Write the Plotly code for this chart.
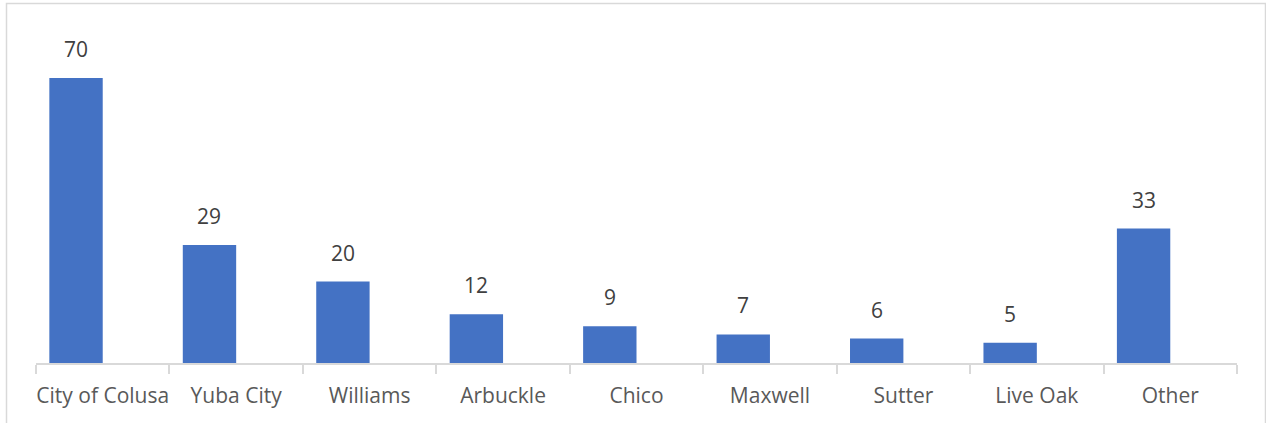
import plotly.graph_objects as go

# Places and counts
places = ["City of Colusa", "Yuba City", "Williams", "Arbuckle", "Chico",
          "Maxwell", "Sutter", "Live Oak", "Other"]
counts = [70, 29, 20, 12, 9, 7, 6, 5, 33]

BAR_COLOR = "#4472C4"
TEXT_COLOR = "#595959"
VALUE_COLOR = "#404040"
LINE_COLOR = "#D9D9D9"
FONT = "Open Sans"

idx = list(range(len(places)))
bar_x = [i - 0.2 for i in idx]

fig = go.Figure()
fig.add_trace(go.Bar(
    x=bar_x, y=counts, width=0.4,
    marker=dict(color=BAR_COLOR, line=dict(width=0)),
    hoverinfo="skip",
))

# Value labels above each bar
for x, v in zip(bar_x, counts):
    fig.add_annotation(x=x, y=v, text=str(v), showarrow=False,
                       yshift=29, font=dict(family=FONT, size=21, color=VALUE_COLOR))

W, H = 1266, 423
ml, mr, mt, mb = 36, 29, 36, 60
pw, ph = W - ml - mr, H - mt - mb

def px_to_paper_x(px):
    return (px - ml) / pw

def px_to_paper_y(py):
    return (H - mb - py) / ph

# Outer chart border
fig.add_shape(type="rect", xref="paper", yref="paper",
              x0=px_to_paper_x(6.5), x1=px_to_paper_x(1265.5),
              y0=px_to_paper_y(430), y1=px_to_paper_y(3.5),
              line=dict(color=LINE_COLOR, width=1.5), layer="below")

fig.update_layout(
    width=W, height=H,
    margin=dict(l=ml, r=mr, t=mt, b=mb),
    plot_bgcolor="white", paper_bgcolor="white",
    showlegend=False,
    font=dict(family=FONT, color=TEXT_COLOR),
    xaxis=dict(
        range=[-0.5, len(places) - 0.5],
        tickvals=idx, ticktext=places,
        ticks="", showgrid=False, zeroline=False,
        showline=True, linecolor=LINE_COLOR, linewidth=1.5,
        tickfont=dict(family=FONT, size=21, color=TEXT_COLOR),
        ticklabelstandoff=13,
        minor=dict(tick0=-0.5, dtick=1, ticks="outside", ticklen=9,
                   tickcolor=LINE_COLOR, tickwidth=1.5, showgrid=False),
    ),
    yaxis=dict(range=[0, 80.3], visible=False, showgrid=False, zeroline=False),
)

fig.write_html("out.html")
